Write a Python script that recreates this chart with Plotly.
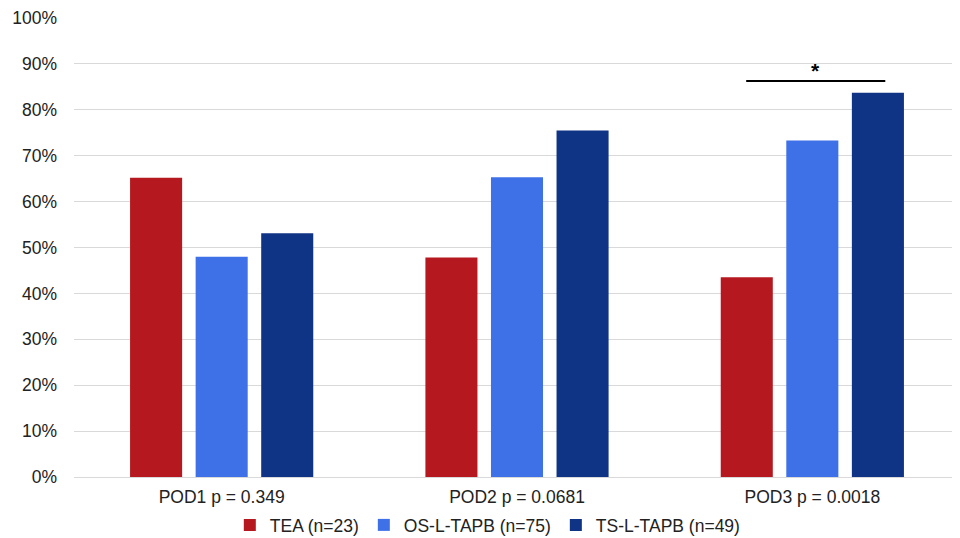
import plotly.graph_objects as go

categories = ["POD1 p = 0.349", "POD2 p = 0.0681", "POD3 p = 0.0018"]
series_names = ["TEA (n=23)", "OS-L-TAPB (n=75)", "TS-L-TAPB (n=49)"]
tea = [65.2, 47.8, 43.5]
os_tapb = [48.0, 65.3, 73.3]
ts_tapb = [53.1, 75.5, 83.7]
colors = ["#B5181F", "#3E70E8", "#0F3385"]
y_ticks = list(range(0, 101, 10))
y_tick_labels = [f"{v}%" for v in y_ticks]
sig_y = 86.3

fig = go.Figure()
for name, vals, col in zip(series_names, [tea, os_tapb, ts_tapb], colors):
    fig.add_trace(go.Bar(x=categories, y=vals, name=name, marker_color=col,
                         marker_line_width=0))

fig.add_shape(type="line", xref="x", yref="y", x0=1.776, x1=2.247,
              y0=sig_y, y1=sig_y, line=dict(color="black", width=2))
fig.add_annotation(x=2.01, y=sig_y, xref="x", yref="y", text="<b>*</b>",
                   showarrow=False, yanchor="bottom", yshift=-3,
                   font=dict(size=21, color="black"))

FS = 17.5
fig.update_layout(
    width=952, height=530,
    margin=dict(l=66, r=0, t=10, b=61, autoexpand=False),
    paper_bgcolor="white", plot_bgcolor="white",
    font=dict(family="Liberation Sans, Arial, sans-serif", size=FS, color="#222"),
    barmode="group", bargap=0.334, bargroupgap=0.206,
    showlegend=True,
    legend=dict(orientation="h", xref="container", x=0.504, xanchor="center",
                yref="container", y=0.0245, yanchor="middle",
                bgcolor="rgba(0,0,0,0)",
                font=dict(size=FS), itemwidth=30, tracegroupgap=0),
    xaxis=dict(showgrid=False, showline=True, linecolor="#d9d9d9", linewidth=1,
               ticks="", tickfont=dict(size=FS), automargin=False,
               ticklabelstandoff=4),
    yaxis=dict(range=[0, 100], tickvals=y_ticks, ticktext=y_tick_labels,
               showgrid=True, gridcolor="#d9d9d9", gridwidth=1, zeroline=False,
               ticks="", tickfont=dict(size=FS), ticklabelstandoff=16,
               automargin=False),
)
fig.write_html("out.html")
